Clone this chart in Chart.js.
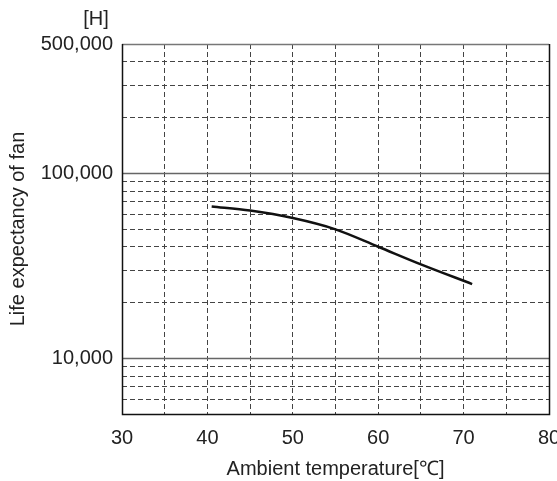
<!DOCTYPE html>
<html>
<head>
<meta charset="utf-8">
<script src="https://cdn.jsdelivr.net/npm/chart.js@4.4.1/dist/chart.umd.min.js"></script>
<style>
  html, body { margin: 0; padding: 0; background: #fff; }
  #wrap { width: 557px; height: 481px; }
</style>
</head>
<body>
<div id="wrap"><canvas id="fanChart"></canvas></div>
<script>
// Data
const temps = [40.5, 45, 50, 55, 60, 65, 71];
const lifeHours = [66200, 62900, 57300, 49800, 40100, 32200, 25200];

// Axis ticks
const yGridValues = [5000, 6000, 7000, 8000, 9000, 10000, 20000, 30000, 40000, 50000,
    60000, 70000, 80000, 90000, 100000, 200000, 300000, 400000, 500000];
const yLabelValues = [10000, 100000, 500000];
const ySolidValues = [10000, 100000];
const xTickValues = [30, 35, 40, 45, 50, 55, 60, 65, 70, 75, 80];
const xLabelValues = [30, 40, 50, 60, 70, 80];

const FONT = "'Liberation Sans', Arial, sans-serif";
const textColor = '#222';
const dashColor = '#444';

// frame, solid decade lines and the [H] unit label
const framePlugin = {
    id: 'frame',
    beforeDatasetsDraw(chart) {
        const { ctx, chartArea: a, scales } = chart;
        ctx.save();
        ctx.setLineDash([]);
        ctx.strokeStyle = '#666';
        ctx.lineWidth = 1.5;
        ySolidValues.forEach(v => {
            const y = Math.round(scales.y.getPixelForValue(v)) + 0.5;
            ctx.beginPath();
            ctx.moveTo(a.left, y);
            ctx.lineTo(a.right, y);
            ctx.stroke();
        });
        ctx.strokeStyle = '#777';
        ctx.lineWidth = 1.5;
        ctx.beginPath();
        ctx.moveTo(a.left, a.top + 0.5);
        ctx.lineTo(a.right, a.top + 0.5);
        ctx.stroke();
        ctx.strokeStyle = '#111';
        ctx.beginPath();
        ctx.moveTo(a.right + 0.5, a.top);
        ctx.lineTo(a.right + 0.5, a.bottom + 0.5);
        ctx.lineTo(a.left + 0.5, a.bottom + 0.5);
        ctx.lineTo(a.left + 0.5, a.top);
        ctx.stroke();
        ctx.restore();
    },
    afterDraw(chart) {
        const ctx = chart.ctx;
        ctx.save();
        ctx.fillStyle = textColor;
        ctx.font = '20px ' + FONT;
        ctx.textAlign = 'center';
        ctx.textBaseline = 'middle';
        ctx.fillText('[H]', 96, 19);
        ctx.restore();
    }
};

const ctx = document.getElementById('fanChart').getContext('2d');
new Chart(ctx, {
    type: 'line',
    data: {
        datasets: [{
            data: temps.map((t, i) => ({ x: t, y: lifeHours[i] })),
            borderColor: '#111',
            borderWidth: 2.5,
            pointRadius: 0,
            fill: false,
            cubicInterpolationMode: 'monotone'
        }]
    },
    options: {
        responsive: true,
        maintainAspectRatio: false,
        animation: false,
        layout: { padding: { top: 44, right: 8, left: 0, bottom: 0 } },
        plugins: { legend: { display: false }, tooltip: { enabled: false } },
        scales: {
            x: {
                type: 'linear',
                min: 30,
                max: 80,
                afterBuildTicks: scale => { scale.ticks = xTickValues.map(v => ({ value: v })); },
                afterFit: scale => {
                    scale.height = 67;
                    scale.paddingLeft = 0;
                    scale.paddingRight = 0;
                },
                ticks: {
                    autoSkip: false,
                    maxRotation: 0,
                    padding: 12,
                    color: textColor,
                    font: { family: FONT, size: 20 },
                    callback: v => xLabelValues.includes(v) ? String(v) : ''
                },
                grid: {
                    drawTicks: false,
                    color: dashColor,
                    lineWidth: c => (c.tick && (c.tick.value === 30 || c.tick.value === 80)) ? 0 : 1
                },
                border: { display: false, dash: [5, 3] },
                title: {
                    display: true,
                    text: 'Ambient temperature[℃]',
                    color: textColor,
                    font: { family: FONT, size: 20 },
                    padding: { top: 0, bottom: 0 }
                }
            },
            y: {
                type: 'logarithmic',
                min: 5000,
                max: 500000,
                afterBuildTicks: scale => { scale.ticks = yGridValues.map(v => ({ value: v })); },
                afterFit: scale => {
                    scale.width = 122;
                    scale.paddingTop = 0;
                    scale.paddingBottom = 0;
                },
                ticks: {
                    autoSkip: false,
                    padding: 9,
                    color: textColor,
                    font: { family: FONT, size: 20 },
                    callback: v => yLabelValues.includes(v) ? v.toLocaleString('en-US') : ''
                },
                grid: {
                    drawTicks: false,
                    color: dashColor,
                    lineWidth: c => {
                        const v = c.tick && c.tick.value;
                        return (v === 5000 || v === 500000 || ySolidValues.includes(v)) ? 0 : 1;
                    }
                },
                border: { display: false, dash: [5, 3] },
                title: {
                    display: true,
                    text: 'Life expectancy of fan',
                    color: textColor,
                    font: { family: FONT, size: 20 },
                    padding: { top: 6, bottom: 0 }
                }
            }
        }
    },
    plugins: [framePlugin]
});
</script>
</body>
</html>
